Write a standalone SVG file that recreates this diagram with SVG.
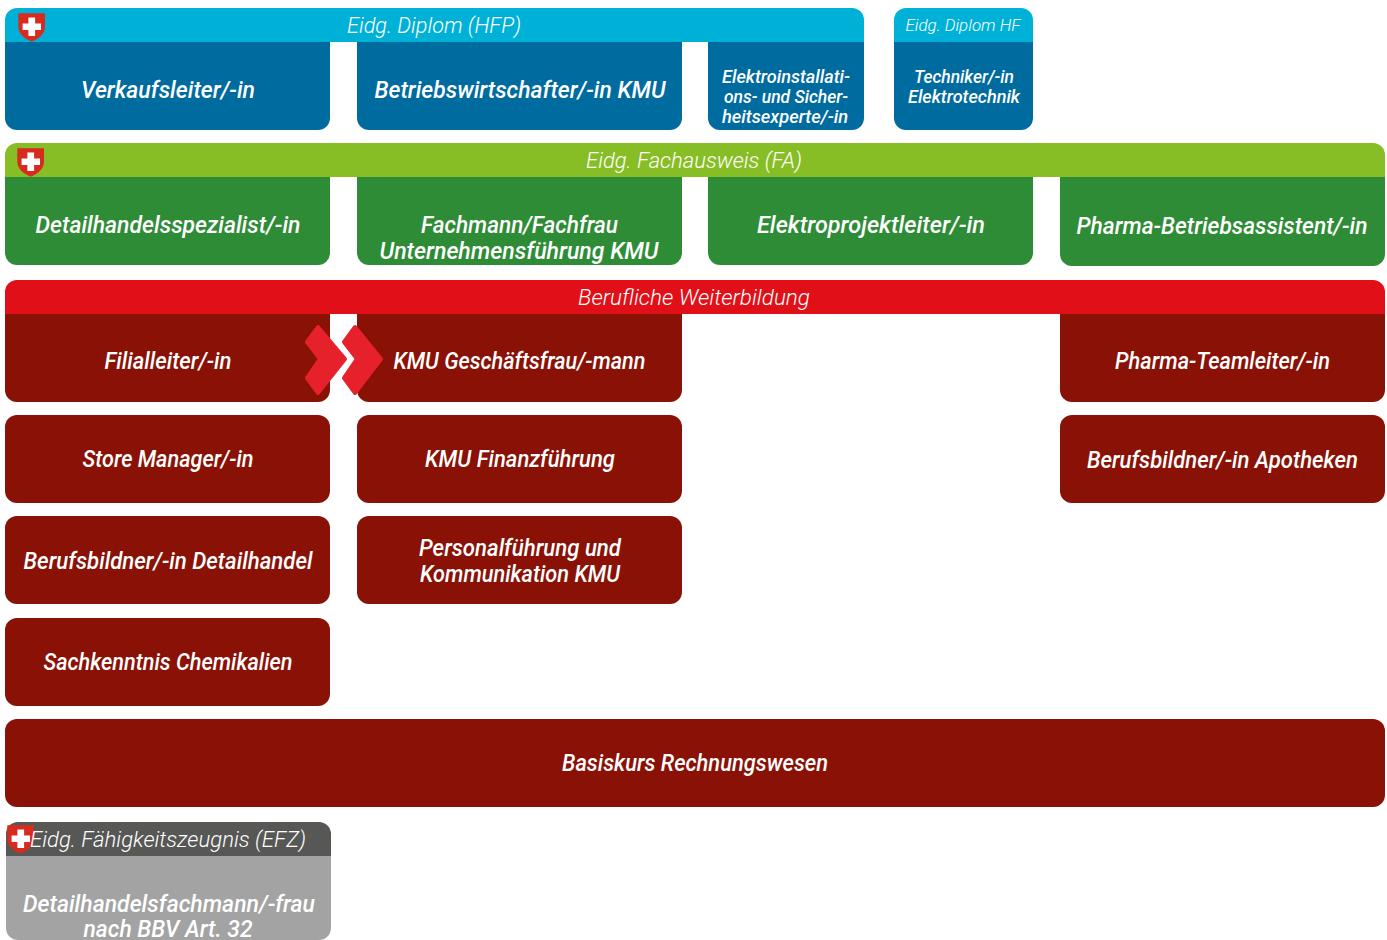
<svg xmlns="http://www.w3.org/2000/svg" width="1387" height="940" viewBox="0 0 1387 940">
<style>
text{font-family:"Roboto","Liberation Sans",sans-serif;font-style:italic;fill:#fff;text-anchor:middle}
.h{font-size:22px;font-weight:300}
.hs{font-size:17px;font-weight:300}
.b{font-size:23px;font-weight:500}
.s{font-size:18px;font-weight:500}
.blue{fill:#006b9f}.cyan{fill:#00b1d7}.dg{fill:#2e8c36}.lg{fill:#88be25}.red{fill:#e10f17}.dr{fill:#8a1105}.gh{fill:#575756}.gb{fill:#a3a3a3}
</style>
<defs>
<g id="shield">
<path d="M18.3 13.3H45V27C45 34 38.5 39 31.7 41.7C25 39 18.3 34 18.3 27Z" fill="#d82b1f"/>
<path d="M28.4 17.5H35.1V23.4H41V30.1H35.1V36H28.4V30.1H22.6V23.4H28.4Z" fill="#fff"/>
</g>
</defs>
<g id="hfp"><path class="cyan" d="M17 8H852A12 12 0 0 1 864 20V42H5V20A12 12 0 0 1 17 8Z"/><use href="#shield"/><text class="h" x="434" y="33" textLength="174" lengthAdjust="spacingAndGlyphs">Eidg. Diplom (HFP)</text></g>
<g id="verkaufsleiter"><path class="blue" d="M5 42H330V118A12 12 0 0 1 318 130H17A12 12 0 0 1 5 118Z"/><text class="b" x="168" y="97.5" textLength="174" lengthAdjust="spacingAndGlyphs">Verkaufsleiter/-in</text></g>
<g id="betriebswirtschafter"><path class="blue" d="M357 42H682V118A12 12 0 0 1 670 130H369A12 12 0 0 1 357 118Z"/><text class="b" x="520" y="97.5" textLength="291" lengthAdjust="spacingAndGlyphs">Betriebswirtschafter/-in KMU</text></g>
<g id="elektroinstallation"><path class="blue" d="M708 42H864V118A12 12 0 0 1 852 130H720A12 12 0 0 1 708 118Z"/><text class="s" x="786" y="83" textLength="128" lengthAdjust="spacingAndGlyphs">Elektroinstallati-</text><text class="s" x="786" y="103" textLength="124" lengthAdjust="spacingAndGlyphs">ons- und Sicher-</text><text class="s" x="785" y="123" textLength="126" lengthAdjust="spacingAndGlyphs">heitsexperte/-in</text></g>
<g id="hf"><path class="cyan" d="M906 8H1021A12 12 0 0 1 1033 20V42H894V20A12 12 0 0 1 906 8Z"/><text class="hs" x="963" y="31" textLength="115" lengthAdjust="spacingAndGlyphs">Eidg. Diplom HF</text></g>
<g id="techniker"><path class="blue" d="M894 42H1033V118A12 12 0 0 1 1021 130H906A12 12 0 0 1 894 118Z"/><text class="s" x="964" y="83" textLength="100" lengthAdjust="spacingAndGlyphs">Techniker/-in</text><text class="s" x="964" y="103" textLength="112" lengthAdjust="spacingAndGlyphs">Elektrotechnik</text></g>

<g id="fa"><path class="lg" d="M17 143H1373A12 12 0 0 1 1385 155V177H5V155A12 12 0 0 1 17 143Z"/><use href="#shield" x="-1" y="135"/><text class="h" x="694" y="168" textLength="216" lengthAdjust="spacingAndGlyphs">Eidg. Fachausweis (FA)</text></g>
<g id="detailhandelsspezialist"><path class="dg" d="M5 177H330V253A12 12 0 0 1 318 265H17A12 12 0 0 1 5 253Z"/><text class="b" x="168" y="233" textLength="265" lengthAdjust="spacingAndGlyphs">Detailhandelsspezialist/-in</text></g>
<g id="unternehmensfuehrung"><path class="dg" d="M357 177H682V253A12 12 0 0 1 670 265H369A12 12 0 0 1 357 253Z"/><text class="b" x="519.5" y="233" textLength="197" lengthAdjust="spacingAndGlyphs">Fachmann/Fachfrau</text><text class="b" x="519" y="258.5" textLength="279" lengthAdjust="spacingAndGlyphs">Unternehmensführung KMU</text></g>
<g id="elektroprojektleiter"><path class="dg" d="M708 177H1033V253A12 12 0 0 1 1021 265H720A12 12 0 0 1 708 253Z"/><text class="b" x="871" y="233" textLength="228" lengthAdjust="spacingAndGlyphs">Elektroprojektleiter/-in</text></g>
<g id="pharma-betriebsassistent"><path class="dg" d="M1060 177H1385V254A12 12 0 0 1 1373 266H1072A12 12 0 0 1 1060 254Z"/><text class="b" x="1222" y="234" textLength="291" lengthAdjust="spacingAndGlyphs">Pharma-Betriebsassistent/-in</text></g>

<g id="weiterbildung"><path class="red" d="M17 280H1373A12 12 0 0 1 1385 292V314H5V292A12 12 0 0 1 17 280Z"/><text class="h" x="694" y="305" textLength="232" lengthAdjust="spacingAndGlyphs">Berufliche Weiterbildung</text></g>
<g id="filialleiter"><path class="dr" d="M5 314H330V390A12 12 0 0 1 318 402H17A12 12 0 0 1 5 390Z"/><text class="b" x="168" y="369" textLength="127" lengthAdjust="spacingAndGlyphs">Filialleiter/-in</text></g>
<g id="kmu-geschaeftsfrau"><path class="dr" d="M357 314H682V390A12 12 0 0 1 670 402H369A12 12 0 0 1 357 390Z"/><text class="b" x="519.5" y="369" textLength="252" lengthAdjust="spacingAndGlyphs">KMU Geschäftsfrau/-mann</text></g>
<g id="pharma-teamleiter"><path class="dr" d="M1060 314H1385V390A12 12 0 0 1 1373 402H1072A12 12 0 0 1 1060 390Z"/><text class="b" x="1222.5" y="369" textLength="215" lengthAdjust="spacingAndGlyphs">Pharma-Teamleiter/-in</text></g>
<g id="store-manager"><rect class="dr" x="5" y="415" width="325" height="88" rx="12"/><text class="b" x="168" y="467" textLength="171" lengthAdjust="spacingAndGlyphs">Store Manager/-in</text></g>
<g id="kmu-finanzfuehrung"><rect class="dr" x="357" y="415" width="325" height="88" rx="12"/><text class="b" x="520" y="467" textLength="190" lengthAdjust="spacingAndGlyphs">KMU Finanzführung</text></g>
<g id="berufsbildner-apotheken"><rect class="dr" x="1060" y="415" width="325" height="88" rx="12"/><text class="b" x="1222.5" y="467.5" textLength="271" lengthAdjust="spacingAndGlyphs">Berufsbildner/-in Apotheken</text></g>
<g id="berufsbildner-detailhandel"><rect class="dr" x="5" y="516" width="325" height="88" rx="12"/><text class="b" x="168" y="569" textLength="289" lengthAdjust="spacingAndGlyphs">Berufsbildner/-in Detailhandel</text></g>
<g id="personalfuehrung"><rect class="dr" x="357" y="516" width="325" height="88" rx="12"/><text class="b" x="520" y="556" textLength="202" lengthAdjust="spacingAndGlyphs">Personalführung und</text><text class="b" x="520" y="581.5" textLength="200" lengthAdjust="spacingAndGlyphs">Kommunikation KMU</text></g>
<g id="sachkenntnis"><rect class="dr" x="5" y="618" width="325" height="88" rx="12"/><text class="b" x="168" y="670" textLength="249" lengthAdjust="spacingAndGlyphs">Sachkenntnis Chemikalien</text></g>
<g id="basiskurs"><rect class="dr" x="5" y="719" width="1380" height="88" rx="12"/><text class="b" x="695" y="771" textLength="266" lengthAdjust="spacingAndGlyphs">Basiskurs Rechnungswesen</text></g>

<g id="efz"><path class="gh" d="M17 822H319A12 12 0 0 1 331 834V856H6V834A12 12 0 0 1 17 822Z"/><use href="#shield" x="-11" y="812"/><text class="h" x="168" y="847" textLength="276" lengthAdjust="spacingAndGlyphs">Eidg. Fähigkeitszeugnis (EFZ)</text></g>
<g id="detailhandelsfachmann"><path class="gb" d="M6 856H331V928A12 12 0 0 1 319 940H18A12 12 0 0 1 6 928Z"/><text class="b" x="169" y="911.5" textLength="292" lengthAdjust="spacingAndGlyphs">Detailhandelsfachmann/-frau</text><text class="b" x="168" y="936.5" textLength="169" lengthAdjust="spacingAndGlyphs">nach BBV Art. 32</text></g>

<g id="connectors">
<path d="M318 327L307 342L320 359L307 378L318 393L345 359Z" fill="#e7212c" stroke="#e7212c" stroke-width="4" stroke-linejoin="round"/>
<path d="M355 327L344 342L357 359L344 378L355 393L381 359Z" fill="#e7212c" stroke="#e7212c" stroke-width="4" stroke-linejoin="round"/>
</g>
</svg>
